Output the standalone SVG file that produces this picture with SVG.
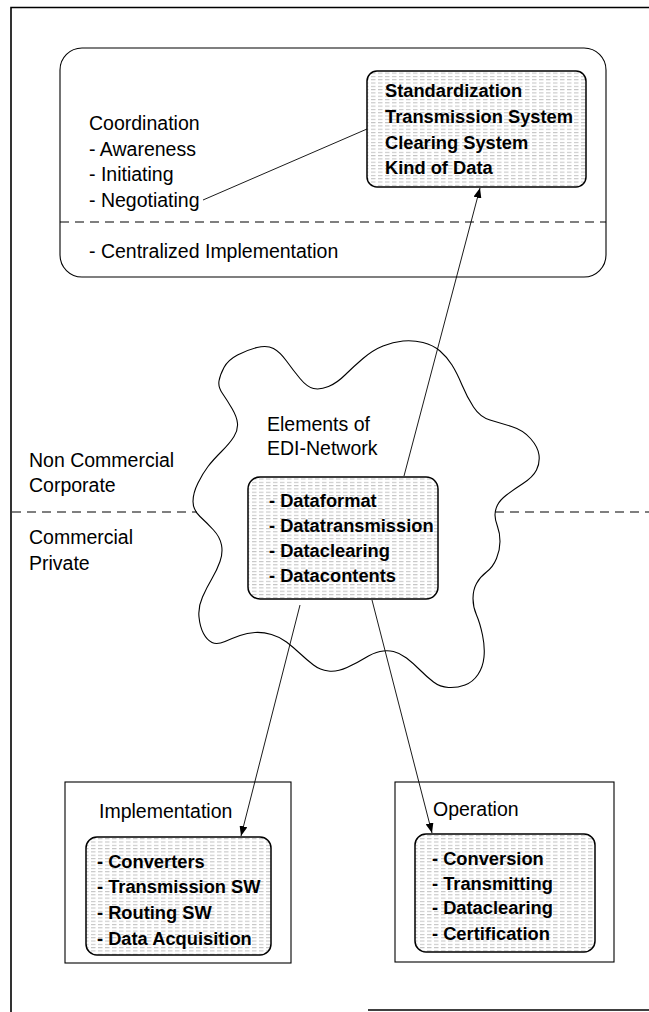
<svg xmlns="http://www.w3.org/2000/svg" width="649" height="1012" viewBox="0 0 649 1012">
<style>
  text { font-family: "Liberation Sans", Arial, sans-serif; fill: #000; }
  .t { font-size: 19.5px; }
  .b { font-size: 18.3px; font-weight: bold; }
  .frame { fill: none; stroke: #000; stroke-width: 1.6; }
  .box { fill: none; stroke: #000; stroke-width: 1.1; }
  .shade { fill: url(#hatch); stroke: #000; stroke-width: 1.5; }
  .dash { fill: none; stroke: #000; stroke-width: 1.2; stroke-dasharray: 9 6; }
  .conn { fill: none; stroke: #000; stroke-width: 0.9; }
  .cloud { fill: none; stroke: #000; stroke-width: 1.1; }
</style>
<defs>
  <pattern id="hatch" width="7" height="3.3" patternUnits="userSpaceOnUse">
    <rect width="7" height="3.3" fill="#fff"/>
    <line x1="0" y1="0.6" x2="4.5" y2="0.6" stroke="#a8a8a8" stroke-width="0.8"/>
  </pattern>
  <marker id="arr" viewBox="0 0 10 8" refX="10" refY="4" markerWidth="10" markerHeight="8" orient="auto" markerUnits="userSpaceOnUse">
    <path d="M0,0 L10,4 L0,8 z" fill="#000"/>
  </marker>
</defs>
<rect width="649" height="1012" fill="#fff"/>

<g id="frame">
  <path class="frame" d="M11,1012 L11,7.5 L649,7.5"/>
  <line class="frame" x1="368" y1="1010" x2="649" y2="1010"/>
  <line class="dash" x1="12" y1="512" x2="197" y2="512"/>
  <line class="dash" x1="495" y1="512" x2="649" y2="512"/>
  <text class="t" x="29" y="467">Non Commercial</text>
  <text class="t" x="29" y="492">Corporate</text>
  <text class="t" x="29" y="544">Commercial</text>
  <text class="t" x="29" y="570">Private</text>
</g>

<g id="coordination">
  <rect class="box" x="60" y="48" width="546" height="229" rx="22"/>
  <line class="dash" x1="60" y1="222" x2="606" y2="222"/>
  <text class="t" x="89" y="130">Coordination</text>
  <text class="t" x="89" y="156">- Awareness</text>
  <text class="t" x="89" y="181">- Initiating</text>
  <text class="t" x="89" y="207">- Negotiating</text>
  <text class="t" x="89" y="258">- Centralized Implementation</text>
</g>

<g id="standards">
  <rect class="shade" x="367" y="71" width="219" height="116" rx="10"/>
  <text class="b" x="385" y="97">Standardization</text>
  <text class="b" x="385" y="123">Transmission System</text>
  <text class="b" x="385" y="149">Clearing System</text>
  <text class="b" x="385" y="174">Kind of Data</text>
</g>

<g id="edi-network">
  <path class="cloud" d="M219,381 Q220,375 224,367.5 Q228,360 237.5,355 Q247,350 257,347.5 Q267,345 273.5,348.5 Q280,352 286.5,361 Q293,370 300,378.5 Q307,387 313.5,388.5 Q320,390 328.5,386.5 Q337,383 345,375 Q353,367 363,358.5 Q373,350 383,346 Q393,342 403,341 Q413,340 423,342.5 Q433,345 440,351 Q447,357 452,365 Q457,373 462,385 Q467,397 473.5,407 Q480,417 490,420 Q500,423 511.5,426.5 Q523,430 530.5,438.5 Q538,447 539,455 Q540,463 536.5,470 Q533,477 523,483.5 Q513,490 506.5,495 Q500,500 497.5,505 Q495,510 495,515 Q495,520 497.5,526.5 Q500,533 500,541.5 Q500,550 496.5,558.5 Q493,567 486.5,572 Q480,577 476.5,583.5 Q473,590 473,598.5 Q473,607 476.5,615 Q480,623 482.5,635 Q485,647 484,657 Q483,667 478,674.5 Q473,682 465,685 Q457,688 448.5,687.5 Q440,687 433.5,682 Q427,677 420,670 Q413,663 406.5,658 Q400,653 393.5,651.5 Q387,650 380,651.5 Q373,653 365,658 Q357,663 347,667.5 Q337,672 328.5,671 Q320,670 313.5,665 Q307,660 300,653.5 Q293,647 286.5,642 Q280,637 271.5,634.5 Q263,632 255,632.5 Q247,633 240,635.5 Q233,638 225,641.5 Q217,645 212,642.5 Q207,640 203.5,633.5 Q200,627 199,617 Q198,607 202.5,597 Q207,587 212,578.5 Q217,570 220,561.5 Q223,553 221.5,545 Q220,537 213.5,530 Q207,523 200,516.5 Q193,510 193,501.5 Q193,493 198,483 Q203,473 208,466.5 Q213,460 221.5,451.5 Q230,443 234,436.5 Q238,430 237.5,423.5 Q237,417 232,408.5 Q227,400 222.5,393.5 Q218,387 219,381 Z"/>
  <text class="t" x="267" y="431">Elements of</text>
  <text class="t" x="267" y="455">EDI-Network</text>
  <rect class="shade" x="248" y="477" width="190" height="122" rx="12"/>
  <text class="b" x="269" y="507">- Dataformat</text>
  <text class="b" x="269" y="532">- Datatransmission</text>
  <text class="b" x="269" y="557">- Dataclearing</text>
  <text class="b" x="269" y="582">- Datacontents</text>
</g>

<g id="implementation">
  <rect class="box" x="65" y="782" width="226" height="181"/>
  <text class="t" x="99" y="818">Implementation</text>
  <rect class="shade" x="86" y="837" width="185" height="118" rx="11"/>
  <text class="b" x="97" y="868">- Converters</text>
  <text class="b" x="97" y="893">- Transmission SW</text>
  <text class="b" x="97" y="919">- Routing SW</text>
  <text class="b" x="97" y="945">- Data Acquisition</text>
</g>

<g id="operation">
  <rect class="box" x="395" y="782" width="219" height="180"/>
  <text class="t" x="433" y="816">Operation</text>
  <rect class="shade" x="415" y="834" width="180" height="118" rx="11"/>
  <text class="b" x="432" y="865">- Conversion</text>
  <text class="b" x="432" y="890">- Transmitting</text>
  <text class="b" x="432" y="914">- Dataclearing</text>
  <text class="b" x="432" y="940">- Certification</text>
</g>

<g id="connectors">
  <line class="conn" x1="203" y1="200" x2="367" y2="129"/>
  <line class="conn" x1="404" y1="476" x2="480" y2="188" marker-end="url(#arr)"/>
  <line class="conn" x1="300" y1="605" x2="241" y2="836" marker-end="url(#arr)"/>
  <line class="conn" x1="372" y1="600" x2="432" y2="833" marker-end="url(#arr)"/>
</g>
</svg>
